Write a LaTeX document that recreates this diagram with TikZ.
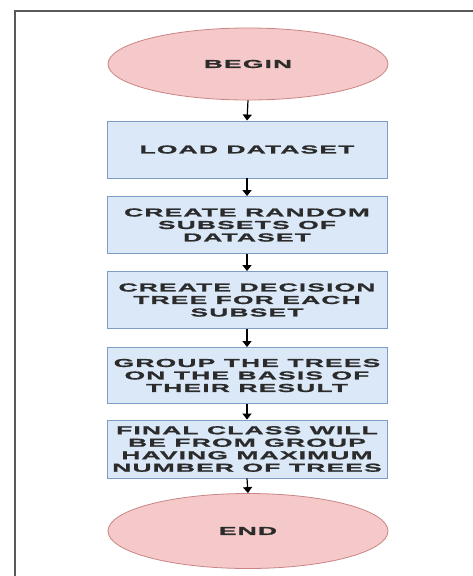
\documentclass[tikz,border=0pt]{standalone}
\usepackage{fontspec}
\usepackage{tikz}
\usetikzlibrary{arrows.meta,shapes.geometric}
\newfontfamily\stepfont{Liberation Sans}[FakeStretch=2.3,LetterSpace=10,FakeBold=1.2]
\definecolor{PaleBlue}  {HTML}{DBE8F8}
\definecolor{EdgeBlue}  {HTML}{7F9CC4}
\definecolor{PalePink}  {HTML}{F5C9C9}
\definecolor{EdgePink}  {HTML}{C98585}
\definecolor{InkGray}   {HTML}{2B2B2B}
\definecolor{FrameGray} {HTML}{5A5A5A}
\tikzset{
  term/.style={ellipse,draw=EdgePink,fill=PalePink,line width=0.8pt,
               minimum width=280pt,minimum height=#1,inner sep=0pt,
               font=\stepfont\bfseries\fontsize{11.5}{12.5}\selectfont\color{InkGray}},
  stepbox/.style={rectangle,draw=EdgeBlue,fill=PaleBlue,line width=0.9pt,
               minimum width=280pt,minimum height=#1,inner sep=0pt,align=center,
               font=\stepfont\bfseries\fontsize{11.5}{12.5}\selectfont\color{InkGray}},
  flow/.style={-{Triangle[width=9pt,length=6pt]},line width=1.2pt,color=black},
}
\begin{document}
\begin{tikzpicture}[x=1pt,y=-1pt]

  \useasboundingbox (0,0) rectangle (473,576);
  \draw[FrameGray,line width=1.3pt] (473,11) -- (15,11) -- (15,576);

  \node[term=72pt]    (B)  at (248,64)    {BEGIN};
  \node[stepbox=57pt] (S1) at (247,149.5) {LOAD DATASET};
  \node[stepbox=57pt] (S2) at (247,225)   {CREATE RANDOM\\SUBSETS OF\\DATASET};
  \node[stepbox=57pt] (S3) at (247,300)   {CREATE DECISION\\TREE FOR EACH\\SUBSET};
  \node[stepbox=56pt] (S4) at (247,375.5) {GROUP THE TREES\\ON THE BASIS OF\\THEIR RESULT};
  \node[stepbox=58pt] (S5) at (247,449)   {FINAL CLASS WILL\\BE FROM GROUP\\HAVING MAXIMUM\\NUMBER OF TREES};
  \node[term=75pt]    (E)  at (248,531)   {END};

  \draw[flow] (B.south)  -- (S1.north);
  \draw[flow] (S1.south) -- (S2.north);
  \draw[flow] (S2.south) -- (S3.north);
  \draw[flow] (S3.south) -- (S4.north);
  \draw[flow] (S4.south) -- (S5.north);
  \draw[flow] (S5.south) -- (E.north);

\end{tikzpicture}
\end{document}
